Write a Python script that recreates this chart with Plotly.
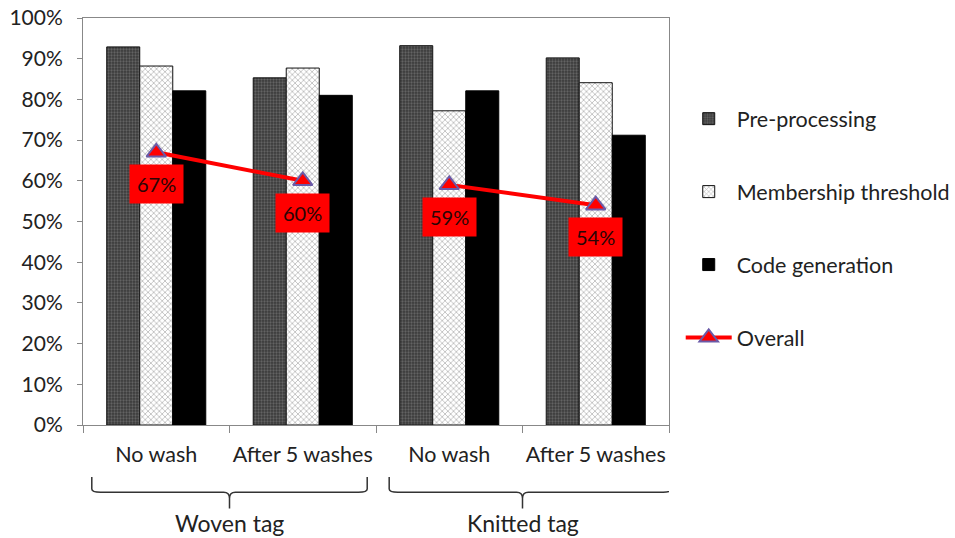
import plotly.graph_objects as go

# Test conditions (two tag types, before/after washing)
conditions = ["No wash", "After 5 washes", "No wash", "After 5 washes"]
tag_groups = ["Woven tag", "Knitted tag"]
conditions_per_group = 2

# Success rate of each stage (fraction)
pre_processing = [0.929, 0.853, 0.932, 0.902]
membership_threshold = [0.882, 0.877, 0.772, 0.841]
code_generation = [0.821, 0.810, 0.821, 0.712]
overall = [0.67, 0.60, 0.59, 0.54]

x_pos = list(range(len(conditions)))
FONT = "Lato"
DARK = "#222222"

fig = go.Figure()

fig.add_trace(go.Bar(
    x=x_pos, y=pre_processing, name="Pre-processing", legendgroup="a",
    marker=dict(color="#3c3c3c", line=dict(color="#111111", width=1),
                pattern=dict(shape=".", bgcolor="#3a3a3a", fgcolor="#8c8c8c",
                             size=3, solidity=0.45)),
))
fig.add_trace(go.Bar(
    x=x_pos, y=membership_threshold, name="Membership threshold", legendgroup="b",
    marker=dict(color="#ffffff", line=dict(color="#111111", width=1),
                pattern=dict(shape="x", bgcolor="#ffffff", fgcolor="#6e6e6e",
                             size=4, solidity=0.35)),
))
fig.add_trace(go.Bar(
    x=x_pos, y=code_generation, name="Code generation", legendgroup="c",
    marker=dict(color="#000000", line=dict(color="#000000", width=1)),
))

# Overall line: one segment per tag type (break between groups)
line_x, line_y = [], []
for g in range(len(tag_groups)):
    idx = range(g * conditions_per_group, (g + 1) * conditions_per_group)
    line_x += [x_pos[i] for i in idx] + [None]
    line_y += [overall[i] for i in idx] + [None]

fig.add_trace(go.Scatter(
    x=line_x, y=line_y, name="Overall", legendgroup="d", mode="lines+markers",
    connectgaps=False,
    line=dict(color="#ff0000", width=4),
    marker=dict(symbol="triangle-up", size=17, color="#ff0000",
                line=dict(color="#6a5aa8", width=2)),
))

# Value labels for the overall line
for xi, v in zip(x_pos, overall):
    fig.add_annotation(
        x=xi, y=v, xref="x", yref="y", text=f"{round(v * 100)}%",
        showarrow=False, yshift=-32, bgcolor="#ff0000", borderpad=7,
        font=dict(family=FONT, size=20, color="#2a0505"),
    )

# Curly braces grouping the conditions by tag type
def brace_path(x0, x1, xm):
    top, mid, tip = -0.128, -0.165, -0.205
    r = 0.06
    return (f"M {x0},{top} L {x0},{mid + 0.008} Q {x0},{mid} {x0 + r},{mid} "
            f"L {xm - 0.04},{mid} Q {xm},{mid} {xm},{mid - 0.015} L {xm},{tip} "
            f"M {xm},{mid - 0.015} Q {xm},{mid} {xm + 0.04},{mid} "
            f"L {x1 - r},{mid} Q {x1},{mid} {x1},{mid + 0.008} L {x1},{top}")

brace_spans = [(-0.44, 1.44, 0.5), (1.59, 3.52, 2.5)]
for (x0, x1, xm), label in zip(brace_spans, tag_groups):
    fig.add_shape(type="path", path=brace_path(x0, x1, xm), xref="x", yref="paper",
                  line=dict(color="#333333", width=1.5))
    fig.add_annotation(x=xm, y=-0.241, xref="x", yref="paper", text=label,
                       showarrow=False, yanchor="middle",
                       font=dict(family=FONT, size=23, color=DARK))

fig.update_layout(
    width=955, height=538,
    margin=dict(l=83, r=286, t=18, b=113, autoexpand=False),
    paper_bgcolor="white", plot_bgcolor="white",
    barmode="group", bargap=0.324, bargroupgap=0,
    font=dict(family=FONT, color=DARK),
    legend=dict(x=1.02, y=0.803, xanchor="left", yanchor="top",
                tracegroupgap=42, font=dict(family=FONT, size=21.5, color=DARK),
                itemwidth=46),
    xaxis=dict(
        range=[-0.5, 3.5], tickvals=x_pos, ticktext=conditions, ticks="",
        tickfont=dict(family=FONT, size=21.5, color=DARK), automargin=False,
        showline=True, linecolor="#888888", linewidth=1, mirror=True,
        ticklabelstandoff=10, showgrid=False, zeroline=False,
        minor=dict(tick0=-0.5, dtick=1, ticks="outside", ticklen=7,
                   tickcolor="#888888", showgrid=False),
    ),
    yaxis=dict(
        range=[0, 1], dtick=0.1, tickformat=".0%", ticks="outside", ticklen=5,
        tickcolor="#888888", tickfont=dict(family=FONT, size=21, color=DARK),
        automargin=False,
        showline=True, linecolor="#888888", linewidth=1, mirror=True,
        ticklabelstandoff=10, showgrid=False, zeroline=False,
    ),
)

fig.write_html("out.html")
